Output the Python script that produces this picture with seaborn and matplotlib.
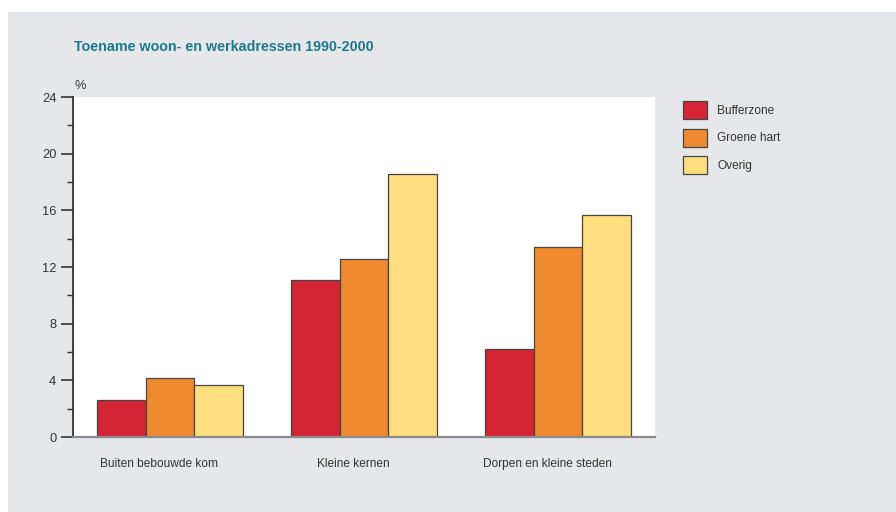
import matplotlib
matplotlib.use("Agg")
import matplotlib.pyplot as plt
import seaborn as sns
import pandas as pd
from matplotlib.patches import Rectangle
from matplotlib.ticker import MultipleLocator
from matplotlib.transforms import ScaledTranslation

categories = ["Buiten bebouwde kom", "Kleine kernen", "Dorpen en kleine steden"]
series = ["Bufferzone", "Groene hart", "Overig"]
bufferzone = [2.6, 11.1, 6.2]
groene_hart = [4.2, 12.55, 13.4]
overig = [3.7, 18.6, 15.65]
colors = ["#d42534", "#f08a30", "#fede7e"]

rows = []
for s, vals in zip(series, [bufferzone, groene_hart, overig]):
    for c, v in zip(categories, vals):
        rows.append({"cat": c, "serie": s, "val": v})
df = pd.DataFrame(rows)

sns.set_theme(style="white")
plt.rcParams["font.family"] = ["Liberation Sans", "DejaVu Sans"]
fs = 8.6
tfs = 10.3

W, H = 896, 512
fig = plt.figure(figsize=(W / 100, H / 100), dpi=100)
fig.patch.set_facecolor("white")
fig.patches.append(Rectangle((8 / W, 0), 1, (H - 12) / H, transform=fig.transFigure,
                             facecolor="#e6e7eb", edgecolor="none", zorder=-10))

ax = fig.add_axes([73 / W, 1 - 437 / H, (655 - 73) / W, (437 - 97) / H])
ax.set_facecolor("white")
sns.barplot(data=df, x="cat", y="val", hue="serie", order=categories, hue_order=series,
            palette=colors, width=0.75, edgecolor="#444444", linewidth=0.9,
            saturation=1, ax=ax, legend=False)

ax.set_ylim(0, 24)
ax.set_xlim(-0.5, 2.5)
ax.yaxis.set_major_locator(MultipleLocator(4))
ax.yaxis.set_minor_locator(MultipleLocator(2))
ax.tick_params(axis="y", which="major", length=9, width=1.2, color="#333333",
               labelsize=fs + 0.7, labelcolor="#333333", pad=3, left=True)
ax.tick_params(axis="y", which="minor", length=4, width=1.0, color="#333333", left=True)
ax.tick_params(axis="x", length=0, labelsize=fs, labelcolor="#333333", pad=15)
ax.set_xlabel("")
ax.set_ylabel("")
shift = ScaledTranslation(-11 / 100, 0, fig.dpi_scale_trans)
for lab in ax.get_xticklabels():
    lab.set_transform(lab.get_transform() + shift)
for s in ["top", "right"]:
    ax.spines[s].set_visible(False)
ax.spines["left"].set_color("#333333")
ax.spines["left"].set_linewidth(1.3)
ax.spines["bottom"].set_color("#8a8a8a")
ax.spines["bottom"].set_linewidth(1.6)

fig.text(74 / W, 1 - 47 / H, "Toename woon- en werkadressen 1990-2000", fontsize=tfs,
         fontweight="bold", color="#1d7a8c", va="center", ha="left")
fig.text(74 / W, 1 - 86 / H, "%", fontsize=fs + 0.7, color="#333333", va="center", ha="left")

handles = [Rectangle((0, 0), 1, 1, facecolor=c, edgecolor="#444444", linewidth=0.9)
           for c in colors]
fig.legend(handles, series, loc="upper left", bbox_to_anchor=(683 / W, 1 - 101 / H),
           frameon=False, fontsize=fs, handlelength=2.0, handleheight=1.95,
           labelspacing=0.8, handletextpad=0.85, borderpad=0, borderaxespad=0,
           labelcolor="#333333")

fig.savefig("out.png", dpi=100)
